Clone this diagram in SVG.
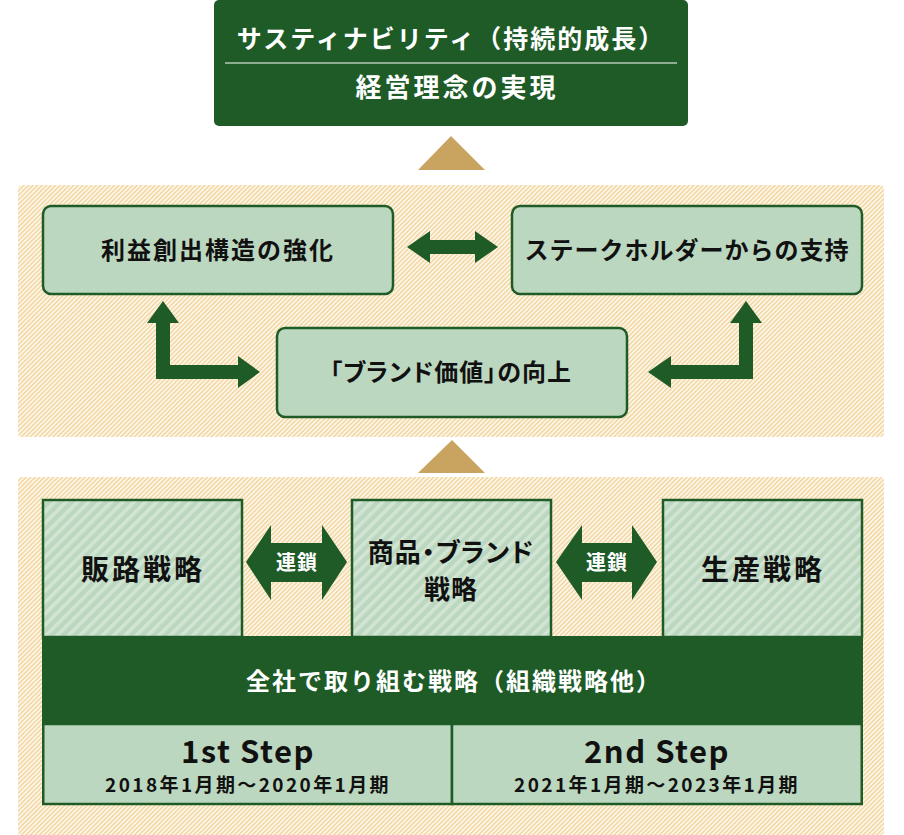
<svg xmlns="http://www.w3.org/2000/svg" width="904" height="835" viewBox="0 0 904 835">
<defs>
<pattern id="beige" width="3.2" height="3.2" patternUnits="userSpaceOnUse" patternTransform="rotate(45)">
<rect width="3.2" height="3.2" fill="#fdf7ea"/>
<rect width="1.5" height="3.2" fill="#f3d6a2"/>
</pattern>
<pattern id="green" width="8" height="8" patternUnits="userSpaceOnUse" patternTransform="rotate(45)">
<rect width="8" height="8" fill="#bcd7bf"/>
<rect width="3.5" height="8" fill="#d2e5d4"/>
</pattern>
<style>
text{font-family:"Noto Sans CJK JP","Noto Sans",sans-serif;font-weight:bold;text-anchor:middle}
.w{fill:#ffffff}
.k{fill:#111111}
.p{font-feature-settings:"palt"}
.rbox{fill:#bcd7bf;stroke:#1e5b27;stroke-width:2.5}
.sbox{fill:url(#green);stroke:#1e5b27;stroke-width:2.5}
.arr{fill:#1e5b27}
.tri{fill:#c9a461}
</style>
</defs>
<rect x="0" y="0" width="904" height="835" fill="#ffffff"/>
<g id="panel-top">
<rect x="18" y="185" width="866" height="252" rx="4" fill="url(#beige)"/>
</g>
<g id="panel-bottom">
<rect x="18" y="477" width="866" height="358" rx="4" fill="url(#beige)"/>
</g>
<g id="goal">
<rect x="214" y="0" width="474" height="126" rx="5" fill="#1e5b27"/>
<line x1="225" y1="63" x2="677" y2="63" stroke="#ffffff" stroke-width="1"/>
<text class="w" x="451" y="48" font-size="25" letter-spacing="2">サスティナビリティ（持続的成長）</text>
<text class="w" x="457" y="97" font-size="26" letter-spacing="3">経営理念の実現</text>
</g>
<g id="profit">
<rect class="rbox" x="43" y="206" width="350" height="88" rx="8"/>
<text class="k" x="218" y="259" font-size="24" letter-spacing="2">利益創出構造の強化</text>
</g>
<g id="stakeholder">
<rect class="rbox" x="512" y="206" width="350" height="88" rx="8"/>
<text class="k" x="687" y="259" font-size="24" letter-spacing="1">ステークホルダーからの支持</text>
</g>
<g id="brand-value">
<rect class="rbox" x="277" y="328" width="350" height="89" rx="8"/>
<text class="k p" x="451" y="381" font-size="24" letter-spacing="1">「ブランド価値」の向上</text>
</g>
<g id="sales">
<rect class="sbox" x="43" y="500" width="199" height="137"/>
<text class="k" x="143" y="580" font-size="28" letter-spacing="3">販路戦略</text>
</g>
<g id="product">
<rect class="sbox" x="352" y="500" width="199" height="137"/>
<text class="k p" x="451" y="562" font-size="26" letter-spacing="1">商品・ブランド</text>
<text class="k" x="451" y="599" font-size="26" letter-spacing="1">戦略</text>
</g>
<g id="production">
<rect class="sbox" x="663" y="500" width="199" height="137"/>
<text class="k" x="763" y="580" font-size="28" letter-spacing="3">生産戦略</text>
</g>
<g id="company">
<rect x="42" y="636" width="821" height="88" fill="#1e5b27"/>
<text class="w" x="454" y="690" font-size="24" letter-spacing="2">全社で取り組む戦略（組織戦略他）</text>
</g>
<g id="step1">
<rect x="43.25" y="724" width="408.75" height="80" fill="#bcd7bf" stroke="#1e5b27" stroke-width="2.5"/>
<text class="k" x="248" y="763" font-size="31" letter-spacing="1.5">1st Step</text>
<text class="k" x="248" y="792" font-size="19" letter-spacing="2.4">2018年1月期～2020年1月期</text>
</g>
<g id="step2">
<rect x="452" y="724" width="409.75" height="80" fill="#bcd7bf" stroke="#1e5b27" stroke-width="2.5"/>
<text class="k" x="657" y="763" font-size="31" letter-spacing="1.5">2nd Step</text>
<text class="k" x="657" y="792" font-size="19" letter-spacing="2.4">2021年1月期～2023年1月期</text>
</g>
<g id="connectors">
<polygon class="tri" points="418,170 485,170 451,136"/>
<polygon class="tri" points="418,473 485,473 452,440"/>
<polygon class="arr" points="407,247 430,231 430,240 475,240 475,231 498,247 475,263 475,254 430,254 430,263"/>
<polygon class="arr" points="163,301 179,323 170,323 170,365 238,365 238,356 260,372 238,388 238,379 156,379 156,323 147,323"/>
<polygon class="arr" points="746,301 762,323 753,323 753,379 671,379 671,388 648,372 671,356 671,365 739,365 739,323 730,323"/>
<polygon class="arr" points="246,562 271,525 271,543 322,543 322,525 347,562 322,600 322,582 271,582 271,600"/>
<polygon class="arr" points="556,562 582,525 582,543 632,543 632,525 657,562 632,600 632,582 582,582 582,600"/>
<text class="w" x="297" y="570" font-size="20" letter-spacing="1">連鎖</text>
<text class="w" x="607" y="570" font-size="20" letter-spacing="1">連鎖</text>
</g>
</svg>
